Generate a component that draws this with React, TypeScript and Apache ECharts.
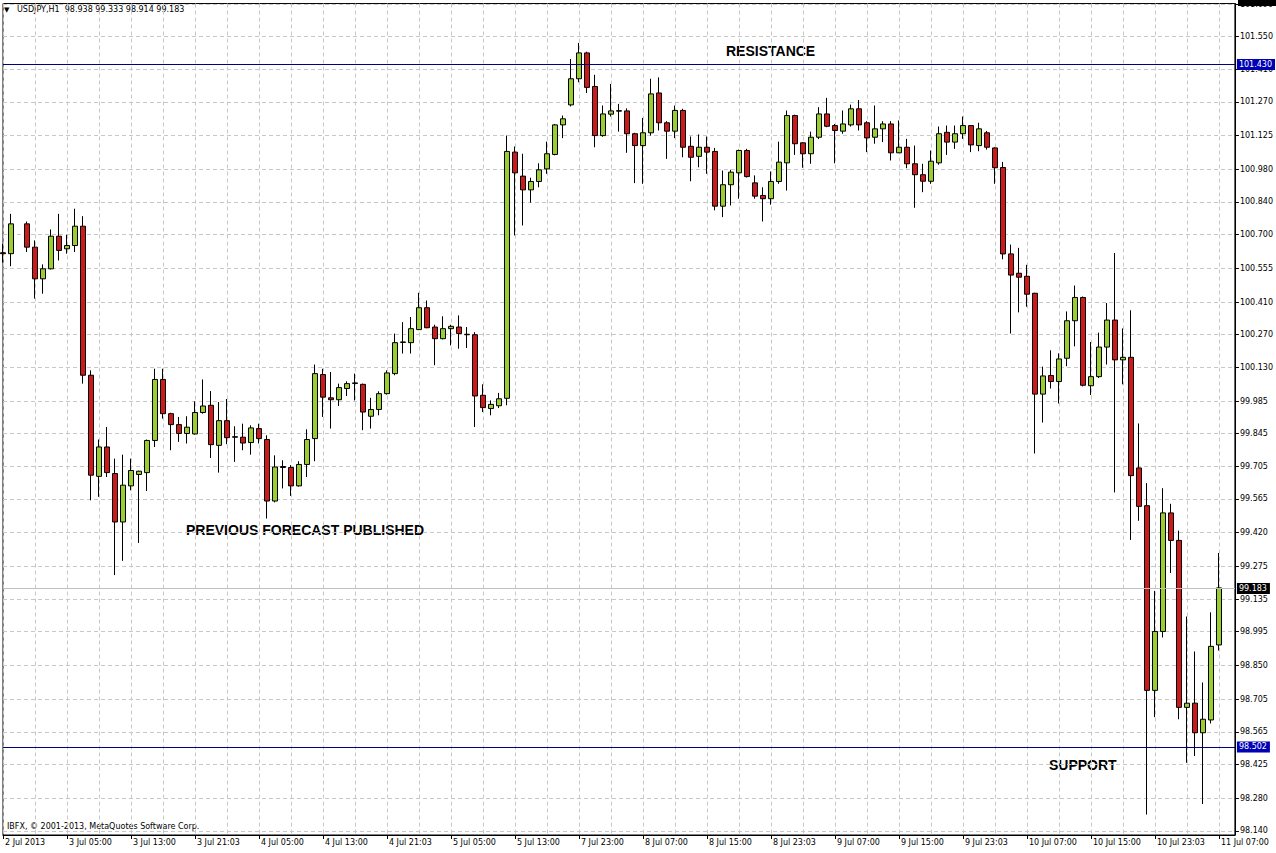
import React, { useEffect, useRef } from 'react';
import * as echarts from 'echarts';

// Hourly USDJPY candles, index 0 = leftmost bar (null = no visible bar)
const OPEN: (number | null)[] = [
  100.622, 100.618, null, 100.746, 100.646, 100.510, 100.553, 100.693, 100.639, 100.653,
  100.736, 100.096, 99.662, 99.788, 99.674, 99.466, 99.621, 99.670, 99.678, 99.816,
  100.078, 99.931, 99.884, 99.846, 99.844, 99.936, 99.967, 99.795, 99.901, 99.832,
  99.830, 99.807, 99.867, 99.820, 99.556, 99.704, 99.700, 99.621, 99.713, 99.824,
  100.099, 99.999, 99.991, 100.039, 100.063, 100.057, 99.920, 99.949, 100.017, 100.103,
  100.239, 100.236, 100.292, 100.386, 100.303, 100.253, 100.296, 100.303, 100.272, 100.270,
  100.010, 99.953, 99.965, 99.997, 101.054, 100.951, 100.892, 100.928, 100.982, 101.044,
  101.171, 101.257, 101.369, 101.480, 101.336, 101.125, 101.217, 101.232, 101.231, 101.133,
  101.082, 101.137, 101.308, 101.180, 101.144, 101.233, 101.079, 101.036, 101.075, 101.057,
  100.822, 100.914, 100.965, 101.061, 100.922, 100.868, 100.854, 100.928, 101.008, 101.211,
  101.094, 101.047, 101.118, 101.218, 101.168, 101.144, 101.171, 101.240, 101.180, 101.118,
  101.154, 101.175, 101.051, 101.075, 101.004, 100.957, 100.929, 101.008, 101.139, 101.097,
  101.133, 101.168, 101.082, 101.137, 101.072, 100.988, 100.617, 100.534, 100.521, 100.448,
  100.015, 100.095, 100.069, 100.169, 100.330, 100.430, 100.051, 100.090, 100.217, 100.333,
  100.162, 100.173, 99.698, 99.536, 98.743, 98.996, 99.505, 99.387, 98.670, 98.688,
  98.561, 98.616, 98.938,
];
const HIGH: (number | null)[] = [
  100.660, 100.789, null, 100.756, 100.675, 100.572, 100.722, 100.789, 100.699, 100.811,
  100.779, 100.117, 99.820, 99.874, 99.738, 99.755, 99.738, 99.686, 99.820, 100.124,
  100.124, 99.935, 99.917, 99.920, 99.984, 100.078, 100.028, 99.981, 99.994, 99.877,
  99.888, 99.881, 99.888, 99.838, 99.752, 99.731, 99.710, 99.727, 99.864, 100.142,
  100.124, 100.110, 100.060, 100.070, 100.103, 100.060, 99.999, 100.027, 100.117, 100.275,
  100.324, 100.346, 100.450, 100.417, 100.313, 100.349, 100.313, 100.353, 100.303, 100.281,
  100.057, 99.988, 100.020, 101.125, 101.078, 101.047, 100.944, 101.006, 101.099, 101.175,
  101.211, 101.454, 101.523, 101.485, 101.386, 101.254, 101.347, 101.261, 101.242, 101.137,
  101.201, 101.369, 101.375, 101.187, 101.254, 101.240, 101.121, 101.130, 101.121, 101.072,
  100.975, 100.978, 101.065, 101.068, 100.954, 100.903, 100.971, 101.099, 101.233, 101.215,
  101.097, 101.142, 101.247, 101.287, 101.175, 101.233, 101.258, 101.278, 101.187, 101.254,
  101.187, 101.187, 101.190, 101.111, 101.082, 101.004, 101.061, 101.164, 101.168, 101.168,
  101.207, 101.170, 101.180, 101.145, 101.075, 101.012, 100.657, 100.643, 100.570, 100.450,
  100.133, 100.203, 100.190, 100.370, 100.481, 100.434, 100.239, 100.279, 100.406, 100.621,
  100.297, 100.375, 99.889, 99.633, 99.170, 99.611, 99.544, 99.429, 99.060, 98.910,
  98.777, 99.078, 99.333,
];
const LOW: (number | null)[] = [
  100.580, 100.564, null, 100.625, 100.425, 100.446, 100.550, 100.589, 100.618, 100.625,
  100.060, 99.559, 99.574, 99.659, 99.238, 99.299, 99.602, 99.376, 99.599, 99.788,
  99.910, 99.774, 99.810, 99.803, 99.841, 99.931, 99.741, 99.678, 99.800, 99.724,
  99.774, 99.755, 99.803, 99.481, 99.550, 99.610, 99.578, 99.618, 99.659, 99.727,
  99.917, 99.867, 99.964, 100.007, 99.988, 99.860, 99.867, 99.924, 100.013, 100.096,
  100.189, 100.189, 100.290, 100.298, 100.139, 100.250, 100.224, 100.210, 100.213, 99.874,
  99.938, 99.924, 99.955, 99.967, 100.696, 100.739, 100.837, 100.903, 100.961, 101.040,
  101.114, 101.250, 101.354, 101.308, 101.075, 101.120, 101.207, 101.142, 101.051, 100.921,
  100.918, 101.125, 101.147, 101.025, 101.114, 101.032, 100.929, 100.989, 100.961, 100.804,
  100.775, 100.825, 100.854, 100.945, 100.854, 100.756, 100.828, 100.918, 100.889, 101.042,
  100.987, 101.004, 101.110, 101.161, 101.006, 101.133, 101.164, 101.147, 101.054, 101.090,
  101.097, 101.018, 101.050, 100.985, 100.815, 100.882, 100.918, 101.000, 101.042, 101.068,
  101.111, 101.054, 101.058, 101.065, 100.918, 100.594, 100.275, 100.366, 100.390, 99.760,
  99.893, 100.039, 99.975, 100.135, 100.220, 100.048, 100.011, 100.084, 100.142, 99.593,
  100.057, 99.389, 99.471, 98.210, 98.628, 98.970, 99.247, 98.619, 98.432, 98.461,
  98.255, 98.601, 98.914,
];
const CLOSE: (number | null)[] = [
  100.618, 100.746, null, 100.646, 100.510, 100.553, 100.693, 100.632, 100.653, 100.736,
  100.096, 99.667, 99.788, 99.678, 99.466, 99.624, 99.687, 99.684, 99.816, 100.078,
  99.931, 99.884, 99.846, 99.873, 99.936, 99.964, 99.798, 99.901, 99.828, 99.830,
  99.805, 99.870, 99.824, 99.556, 99.702, 99.700, 99.621, 99.713, 99.820, 100.103,
  100.002, 99.991, 100.043, 100.060, 100.061, 99.938, 99.949, 100.017, 100.106, 100.236,
  100.237, 100.296, 100.386, 100.300, 100.253, 100.296, 100.306, 100.275, 100.270, 100.007,
  99.957, 99.971, 99.995, 101.057, 100.965, 100.892, 100.928, 100.978, 101.047, 101.171,
  101.197, 101.369, 101.480, 101.332, 101.125, 101.218, 101.231, 101.230, 101.133, 101.082,
  101.137, 101.304, 101.180, 101.144, 101.233, 101.075, 101.032, 101.075, 101.054, 100.822,
  100.914, 100.968, 101.061, 100.949, 100.865, 100.854, 100.928, 101.011, 101.211, 101.090,
  101.047, 101.118, 101.218, 101.165, 101.147, 101.175, 101.240, 101.171, 101.115, 101.154,
  101.175, 101.051, 101.075, 101.004, 100.957, 100.929, 101.015, 101.133, 101.097, 101.133,
  101.168, 101.085, 101.154, 101.075, 100.987, 100.617, 100.526, 100.517, 100.444, 100.015,
  100.093, 100.069, 100.166, 100.330, 100.430, 100.053, 100.090, 100.217, 100.333, 100.162,
  100.173, 99.665, 99.533, 98.743, 98.996, 99.505, 99.387, 98.670, 98.688, 98.561,
  98.619, 98.932, 99.183,
];

// Time labels shown every 8 bars
const X_TICK_LABELS = [
  '2 Jul 2013', '3 Jul 05:00', '3 Jul 13:00', '3 Jul 21:03', '4 Jul 05:00',
  '4 Jul 13:00', '4 Jul 21:03', '5 Jul 05:00', '5 Jul 13:00', '7 Jul 23:00',
  '8 Jul 07:00', '8 Jul 15:00', '8 Jul 23:03', '9 Jul 07:00', '9 Jul 15:00',
  '9 Jul 23:03', '10 Jul 07:00', '10 Jul 15:00', '10 Jul 23:03', '11 Jul 07:00',
];
const Y_TICKS = [
  98.14, 98.28, 98.425, 98.565, 98.705, 98.85, 98.995, 99.135, 99.275, 99.42,
  99.565, 99.705, 99.845, 99.985, 100.13, 100.27, 100.41, 100.555, 100.7, 100.84,
  100.98, 101.125, 101.27, 101.41, 101.55, 101.69,
];
const Y_MIN = 98.122;
const Y_MAX = 101.692;
const RESISTANCE = 101.43;
const SUPPORT = 98.502;
const BID = 99.183;
const HEADER = 'USDJPY,H1  98.938 99.333 98.914 99.183';
const COPYRIGHT = 'IBFX, \u00a9 2001-2013, MetaQuotes Software Corp.';
const EMPTY_SLOTS = 2;

const FONT = '"DejaVu Sans", Verdana, sans-serif';
const BOLD = 'bold 14px "Liberation Sans", Arial, sans-serif';

export default function App() {
  const ref = useRef<HTMLDivElement>(null);
  useEffect(() => {
    document.body.style.margin = '0';
    if (!ref.current) return;
    const chart = echarts.init(ref.current, undefined, { renderer: 'svg' });
    const total = OPEN.length + EMPTY_SLOTS;
    const cats = Array.from({ length: total }, (_, i) => String(i));
    const data = OPEN.map((o, i) =>
      o === null ? ['-', '-', '-', '-'] : [o, CLOSE[i], LOW[i], HIGH[i]]
    );
    const grid = '#c8c8c8';
    const lineLabel = (bg: string, value: number) => ({
      show: true,
      position: 'end',
      distance: 2,
      formatter: value.toFixed(3),
      color: '#fff',
      backgroundColor: bg,
      padding: [2, 3, 1, 2],
      fontSize: 8,
      fontFamily: FONT,
    });
    chart.setOption({
      animation: false,
      backgroundColor: '#fff',
      textStyle: { fontFamily: FONT },
      grid: {
        left: 3, right: 40, top: 3, bottom: 18,
        show: true, borderColor: '#000', borderWidth: 1,
      },
      xAxis: {
        type: 'category',
        data: cats,
        boundaryGap: false,
        axisLine: { show: true, lineStyle: { color: '#000', width: 1 } },
        axisTick: { show: true, interval: 7, length: 4, lineStyle: { color: '#000' } },
        axisLabel: {
          interval: 7,
          align: 'left',
          margin: 3,
          fontSize: 8,
          color: '#000',
          fontFamily: FONT,
          padding: [0, 0, 0, 2],
          formatter: (_v: string, idx: number) =>
            idx % 8 === 0 && X_TICK_LABELS[idx / 8] ? X_TICK_LABELS[idx / 8] : '',
        },
        splitLine: { show: true, interval: 3, lineStyle: { color: grid, type: [4, 3], width: 1 } },
      },
      yAxis: {
        type: 'value',
        position: 'right',
        min: Y_MIN,
        max: Y_MAX,
        axisLine: { show: true, lineStyle: { color: '#000', width: 1 } },
        axisTick: { show: true, length: 4, customValues: Y_TICKS, lineStyle: { color: '#000' } },
        axisLabel: {
          customValues: Y_TICKS,
          formatter: (v: number) => v.toFixed(3),
          fontSize: 8,
          color: '#000',
          margin: 5,
          fontFamily: FONT,
        },
        splitLine: { show: true, lineStyle: { color: grid, type: [4, 3], width: 1 } },
      },
      series: [
        {
          type: 'candlestick',
          data,
          barWidth: 5,
          itemStyle: {
            color: '#9acd32',
            color0: '#cc1a1a',
            borderColor: '#000',
            borderColor0: '#000',
            borderColorDoji: '#000',
            borderWidth: 1,
          },
          markLine: {
            silent: true,
            symbol: ['none', 'none'],
            data: [
              { yAxis: BID, lineStyle: { color: '#c0c0c0', width: 1, type: 'solid' }, label: lineLabel('#000', BID) },
              { yAxis: RESISTANCE, lineStyle: { color: '#000080', width: 1, type: 'solid' }, label: lineLabel('#0000b4', RESISTANCE) },
              { yAxis: SUPPORT, lineStyle: { color: '#000080', width: 1, type: 'solid' }, label: lineLabel('#0000b4', SUPPORT) },
            ],
          },
        },
      ],
      graphic: [
        { type: 'text', left: 4, top: 6, style: { text: '\u25bc', font: `7px ${FONT}`, fill: '#000' } },
        { type: 'text', left: 17, top: 5, style: { text: HEADER, font: `8px ${FONT}`, fill: '#000' } },
        { type: 'text', left: 7, top: 822, style: { text: COPYRIGHT, font: `8px ${FONT}`, fill: '#000' } },
        { type: 'text', left: 726, top: 44, style: { text: 'RESISTANCE', font: BOLD, fill: '#000' } },
        { type: 'text', left: 186, top: 523, style: { text: 'PREVIOUS FORECAST PUBLISHED', font: BOLD, fill: '#000' } },
        { type: 'text', left: 1049, top: 758, style: { text: 'SUPPORT', font: BOLD, fill: '#000' } },
        { type: 'rect', shape: { x: 1238, y: 0, width: 38, height: 6 }, style: { fill: '#000' }, z: 100 },
      ],
    });
    return () => chart.dispose();
  }, []);
  return <div ref={ref} style={{ width: 1276, height: 853 }} />;
}
